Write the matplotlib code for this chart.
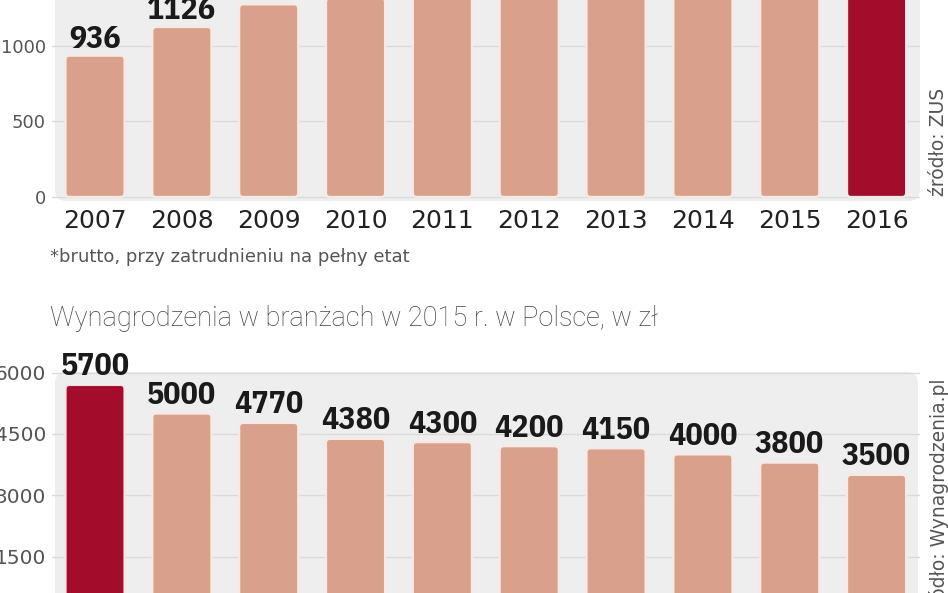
import numpy as np
import matplotlib
matplotlib.use("Agg")
import matplotlib.pyplot as plt
from matplotlib.patches import FancyBboxPatch

# --- data ---
years = ["2007", "2008", "2009", "2010", "2011", "2012", "2013", "2014", "2015", "2016"]
min_wage = [936, 1126, 1276, 1317, 1386, 1500, 1600, 1680, 1750, 1850]
top_ticks = [0, 500, 1000]

sectors = ["IT", "bankowość", "energetyka", "telekomunikacja", "ubezpieczenia",
           "farmacja", "chemia", "paliwa", "doradztwo", "motoryzacja"]
sector_pay = [5700, 5000, 4770, 4380, 4300, 4200, 4150, 4000, 3800, 3500]
bottom_ticks = [1500, 3000, 4500, 6000]

SALMON = "#d9a08b"
DARK_RED = "#a30d2b"
EDGE = "#f7e9e3"
PANEL = "#eeeeee"
GRID = "#dadada"
NUM_FONT = ["IBM Plex Sans Condensed", "Open Sans Condensed", "DejaVu Sans"]

W, H = 948, 593
fig = plt.figure(figsize=(W / 100, H / 100), dpi=100)
fig.patch.set_facecolor("white")


def px_axes(x0, x1, ytop, ybot):
    """axes from pixel coords (origin top-left)"""
    return fig.add_axes([x0 / W, 1 - ybot / H, (x1 - x0) / W, (ybot - ytop) / H])


def px_panel(x0, x1, ytop, ybot):
    p = FancyBboxPatch((x0 / W, 1 - ybot / H), (x1 - x0) / W, (ybot - ytop) / H,
                       boxstyle="round,pad=0,rounding_size=0.012",
                       mutation_aspect=W / H,
                       transform=fig.transFigure, facecolor=PANEL,
                       edgecolor="none", zorder=-5)
    fig.patches.append(p)


def rounded_bars(ax, values, colors, px_per_unit_y):
    bars = ax.bar(np.arange(len(values)), values, width=0.68, color=colors)
    rad_x = 4 / 86.8
    rad_y = 4 / px_per_unit_y
    for b in bars:
        x, y = b.get_x(), b.get_y()
        w, h = b.get_width(), b.get_height()
        ax.add_patch(FancyBboxPatch((x, y), w, h,
                                    boxstyle=f"round,pad=0,rounding_size={rad_x}",
                                    mutation_aspect=rad_y / rad_x,
                                    facecolor=b.get_facecolor(), edgecolor=EDGE,
                                    linewidth=1.6, zorder=3))
        b.set_visible(False)
    return bars


def style(ax, ticks, size):
    ax.set_facecolor("none")
    for s in ax.spines.values():
        s.set_visible(False)
    ax.set_yticks(ticks)
    ax.yaxis.grid(True, color=GRID, linewidth=1)
    ax.set_axisbelow(True)
    ax.tick_params(axis="y", length=0, pad=4, labelsize=size, labelcolor="#555555")
    ax.set_xlim(-0.5, len(years) - 0.5)


# --- top chart: minimum wage ---
px_panel(55, 920, -20, 201)
ax1 = px_axes(51.6, 920, 0, 203)
style(ax1, top_ticks, 13)
ax1.set_ylim(-40, 1305)
cols1 = [SALMON] * (len(years) - 1) + [DARK_RED]
rounded_bars(ax1, min_wage, cols1, 0.151)
ax1.set_xticks(np.arange(len(years)))
ax1.set_xticklabels(years, fontsize=18, color="#222222")
ax1.tick_params(axis="x", length=0, pad=4)
for i, v in enumerate(min_wage):
    ax1.annotate(str(v), (i, v), xytext=(0, 1.5), textcoords="offset points",
                 ha="center", va="bottom", fontsize=23, fontweight="bold",
                 family=NUM_FONT, color="#1a1a1a", annotation_clip=True)

fig.text(50 / W, 1 - 257 / H, "*brutto, przy zatrudnieniu na pełny etat",
         ha="left", va="center", fontsize=13, color="#555555")
fig.text(939 / W, 1 - 88 / H, "źródło: ZUS", rotation=90, ha="center", va="top",
         fontsize=13.5, color="#555555")

# --- bottom chart: wages by sector ---
fig.text(50 / W, 1 - 318 / H, "Wynagrodzenia w branżach w 2015 r. w Polsce, w zł",
         ha="left", va="center", fontsize=19.5, color="#444444",
         family="Roboto", fontweight="light")
px_panel(55, 918, 372, 640)
ax2 = px_axes(51.6, 920, 340, 593)
style(ax2, bottom_ticks, 14.5)
ax2.set_ylim(611, 6799)
cols2 = [DARK_RED] + [SALMON] * (len(sectors) - 1)
rounded_bars(ax2, sector_pay, cols2, 0.04089)
ax2.set_xticks([])
for i, v in enumerate(sector_pay):
    ax2.annotate(str(v), (i, v), xytext=(0, 2.5), textcoords="offset points",
                 ha="center", va="bottom", fontsize=23, fontweight="bold",
                 family=NUM_FONT, color="#1a1a1a")

fig.text(939 / W, 1 - 378 / H, "źródło: Wynagrodzenia.pl", rotation=90,
         ha="center", va="top", fontsize=13.5, color="#555555")

fig.savefig("out.png", dpi=100)
